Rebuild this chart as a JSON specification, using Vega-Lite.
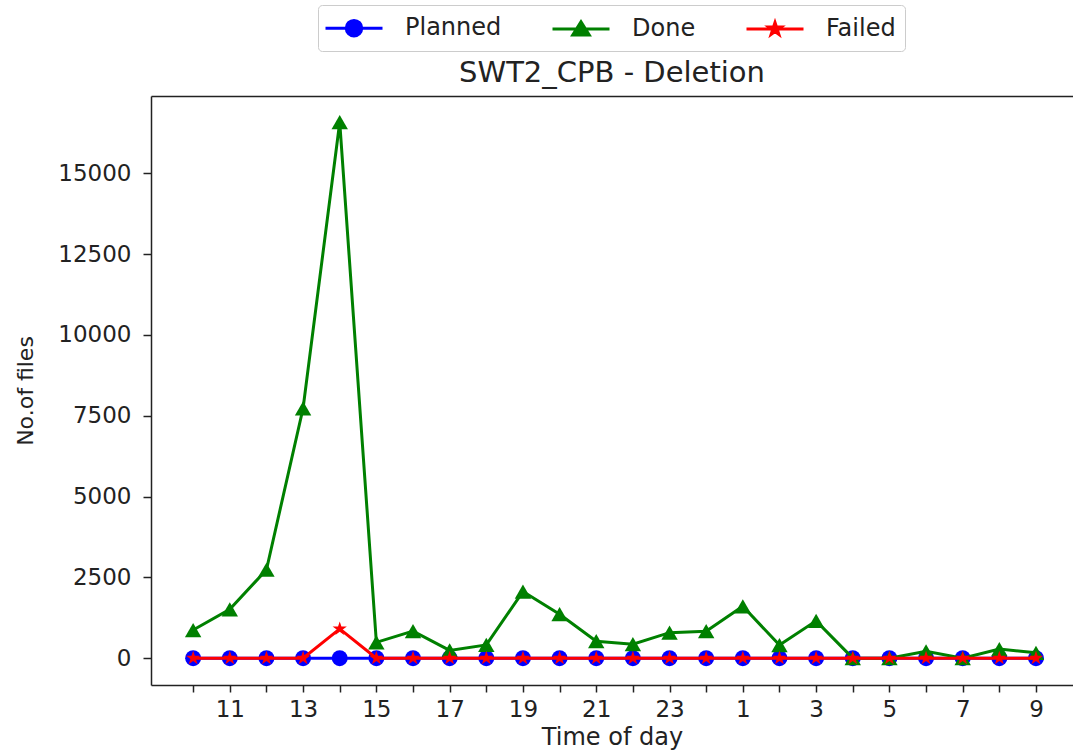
{
  "$schema": "https://vega.github.io/schema/vega-lite/v6.json",
  "width": 922,
  "height": 589,
  "autosize": {"type": "none"},
  "padding": {"left": 151, "top": 96, "right": 0, "bottom": 68},
  "background": "white",
  "config": {"view": {"stroke": null}, "font": "DejaVu Sans"},
  "title": {"text": "SWT2_CPB - Deletion", "fontSize": 29, "fontWeight": "normal", "color": "#222222", "offset": 0, "dy": 83, "font": "DejaVu Sans"},
  "data": {"values": [
    {"t": 0, "series": "Planned", "v": 0}, {"t": 1, "series": "Planned", "v": 0}, {"t": 2, "series": "Planned", "v": 0}, {"t": 3, "series": "Planned", "v": 0},
    {"t": 4, "series": "Planned", "v": 0}, {"t": 5, "series": "Planned", "v": 0}, {"t": 6, "series": "Planned", "v": 0}, {"t": 7, "series": "Planned", "v": 0},
    {"t": 8, "series": "Planned", "v": 0}, {"t": 9, "series": "Planned", "v": 0}, {"t": 10, "series": "Planned", "v": 0}, {"t": 11, "series": "Planned", "v": 0},
    {"t": 12, "series": "Planned", "v": 0}, {"t": 13, "series": "Planned", "v": 0}, {"t": 14, "series": "Planned", "v": 0}, {"t": 15, "series": "Planned", "v": 0},
    {"t": 16, "series": "Planned", "v": 0}, {"t": 17, "series": "Planned", "v": 0}, {"t": 18, "series": "Planned", "v": 0}, {"t": 19, "series": "Planned", "v": 0},
    {"t": 20, "series": "Planned", "v": 0}, {"t": 21, "series": "Planned", "v": 0}, {"t": 22, "series": "Planned", "v": 0}, {"t": 23, "series": "Planned", "v": 0},
    {"t": 0, "series": "Done", "v": 870}, {"t": 1, "series": "Done", "v": 1510}, {"t": 2, "series": "Done", "v": 2735}, {"t": 3, "series": "Done", "v": 7730},
    {"t": 4, "series": "Done", "v": 16580}, {"t": 5, "series": "Done", "v": 490}, {"t": 6, "series": "Done", "v": 835}, {"t": 7, "series": "Done", "v": 240},
    {"t": 8, "series": "Done", "v": 410}, {"t": 9, "series": "Done", "v": 2060}, {"t": 10, "series": "Done", "v": 1360}, {"t": 11, "series": "Done", "v": 525},
    {"t": 12, "series": "Done", "v": 433}, {"t": 13, "series": "Done", "v": 790}, {"t": 14, "series": "Done", "v": 835}, {"t": 15, "series": "Done", "v": 1605},
    {"t": 16, "series": "Done", "v": 405}, {"t": 17, "series": "Done", "v": 1155}, {"t": 18, "series": "Done", "v": 0}, {"t": 19, "series": "Done", "v": 0},
    {"t": 20, "series": "Done", "v": 210}, {"t": 21, "series": "Done", "v": 0}, {"t": 22, "series": "Done", "v": 280}, {"t": 23, "series": "Done", "v": 165},
    {"t": 0, "series": "Failed", "v": 0}, {"t": 1, "series": "Failed", "v": 0}, {"t": 2, "series": "Failed", "v": 0}, {"t": 3, "series": "Failed", "v": 0},
    {"t": 4, "series": "Failed", "v": 905}, {"t": 5, "series": "Failed", "v": 0}, {"t": 6, "series": "Failed", "v": 0}, {"t": 7, "series": "Failed", "v": 0},
    {"t": 8, "series": "Failed", "v": 0}, {"t": 9, "series": "Failed", "v": 0}, {"t": 10, "series": "Failed", "v": 0}, {"t": 11, "series": "Failed", "v": 0},
    {"t": 12, "series": "Failed", "v": 0}, {"t": 13, "series": "Failed", "v": 0}, {"t": 14, "series": "Failed", "v": 0}, {"t": 15, "series": "Failed", "v": 0},
    {"t": 16, "series": "Failed", "v": 0}, {"t": 17, "series": "Failed", "v": 0}, {"t": 18, "series": "Failed", "v": 0}, {"t": 19, "series": "Failed", "v": 0},
    {"t": 20, "series": "Failed", "v": 0}, {"t": 21, "series": "Failed", "v": 0}, {"t": 22, "series": "Failed", "v": 0}, {"t": 23, "series": "Failed", "v": 0}
  ]},
  "resolve": {"axis": {"x": "independent"}},
  "layer": [
    {
      "mark": {"type": "point", "opacity": 0},
      "encoding": {
        "x": {"field": "t", "type": "quantitative", "scale": {"domain": [-1.15, 24.01], "nice": false, "zero": false},
              "axis": {"orient": "top", "labels": false, "ticks": false, "title": null, "grid": false, "domain": true, "domainColor": "#222222", "domainWidth": 1.5}},
        "y": {"field": "v", "type": "quantitative", "scale": {"domain": [-830, 17390], "nice": false, "zero": false},
              "axis": {"values": [0, 2500, 5000, 7500, 10000, 12500, 15000], "format": "d", "grid": false, "title": "No.of files", "titleFontSize": 22, "titleFontWeight": "normal", "titleColor": "#222222", "titlePadding": 20,
                       "labelFontSize": 23, "labelColor": "#222222", "labelPadding": 12, "tickSize": 8, "tickWidth": 1.5, "tickColor": "#222222", "domainColor": "#222222", "domainWidth": 1.5}}
      }
    },
    {
      "transform": [{"filter": "datum.series == 'Planned'"}],
      "mark": {"type": "line", "color": "#0000ff", "strokeWidth": 3},
      "encoding": {
        "x": {"field": "t", "type": "quantitative", "scale": {"domain": [-1.15, 24.01], "nice": false, "zero": false},
              "axis": {"values": [0,1,2,3,4,5,6,7,8,9,10,11,12,13,14,15,16,17,18,19,20,21,22,23],
                       "labelExpr": "datum.value % 2 == 1 ? '' + ((datum.value + 10) % 24) : ''",
                       "grid": false, "title": "Time of day", "titleFontSize": 24, "titleFontWeight": "normal", "titleColor": "#222222", "titlePadding": 4,
                       "labelFontSize": 23, "labelColor": "#222222", "labelPadding": 6, "labelFlush": false, "labelOverlap": false,
                       "tickSize": 7, "tickWidth": 1.5, "tickColor": "#222222", "domainColor": "#222222", "domainWidth": 1.5}},
        "y": {"field": "v", "type": "quantitative"}
      }
    },
    {
      "transform": [{"filter": "datum.series == 'Planned'"}],
      "mark": {"type": "point", "shape": "circle", "filled": true, "opacity": 1, "color": "#0000ff", "size": 256},
      "encoding": {
        "x": {"field": "t", "type": "quantitative", "axis": null},
        "y": {"field": "v", "type": "quantitative"}
      }
    },
    {
      "transform": [{"filter": "datum.series == 'Done'"}],
      "mark": {"type": "line", "color": "#008000", "strokeWidth": 3},
      "encoding": {
        "x": {"field": "t", "type": "quantitative", "axis": null},
        "y": {"field": "v", "type": "quantitative"}
      }
    },
    {
      "transform": [{"filter": "datum.series == 'Done'"}],
      "mark": {"type": "point", "shape": "triangle-up", "filled": true, "opacity": 1, "color": "#008000", "size": 270},
      "encoding": {
        "x": {"field": "t", "type": "quantitative", "axis": null},
        "y": {"field": "v", "type": "quantitative"}
      }
    },
    {
      "transform": [{"filter": "datum.series == 'Failed'"}],
      "mark": {"type": "line", "color": "#ff0000", "strokeWidth": 3},
      "encoding": {
        "x": {"field": "t", "type": "quantitative", "axis": null},
        "y": {"field": "v", "type": "quantitative"}
      }
    },
    {
      "transform": [{"filter": "datum.series == 'Failed'"}],
      "mark": {"type": "point", "shape": "M0,-1L0.225,-0.309L0.951,-0.309L0.363,0.118L0.588,0.809L0,0.382L-0.588,0.809L-0.363,0.118L-0.951,-0.309L-0.225,-0.309Z", "filled": true, "opacity": 1, "color": "#ff0000", "size": 225},
      "encoding": {
        "x": {"field": "t", "type": "quantitative", "axis": null},
        "y": {"field": "v", "type": "quantitative"}
      }
    },
    {
      "mark": {"type": "point", "filled": true, "opacity": 0, "size": 625},
      "encoding": {
        "color": {"field": "series", "type": "nominal",
                  "scale": {"domain": ["Planned", "Done", "Failed"], "range": ["#0000ff", "#008000", "#ff0000"]},
                  "legend": {"orient": "none", "legendX": 167, "legendY": -91, "direction": "horizontal", "columns": 3, "title": null,
                             "labelFontSize": 24, "labelColor": "#222222", "labelOffset": 37, "symbolOffset": 13, "columnPadding": 44, "padding": 9,
                             "strokeColor": "#cccccc", "fillColor": "white", "cornerRadius": 4, "symbolSize": 625, "symbolStrokeWidth": 3, "symbolOpacity": 1,
                             "encode": {"symbols": {"update": {"stroke": {"scale": "color", "field": "value"}, "opacity": {"value": 1}, "strokeWidth": {"value": 3}}}}}},
        "shape": {"field": "series", "type": "nominal",
                  "scale": {"domain": ["Planned", "Done", "Failed"], "range": [
                    "M-2.28,0L2.28,0M-0.62,0A0.62,0.62,0,1,1,0.62,0A0.62,0.62,0,1,1,-0.62,0Z",
                    "M-2.28,0L2.28,0M0,-0.58L-0.66,0.48L0.66,0.48Z",
                    "M-2.28,0L2.28,0M0,-0.52L0.117,-0.161L0.495,-0.161L0.189,0.061L0.306,0.421L0,0.199L-0.306,0.421L-0.189,0.061L-0.495,-0.161L-0.117,-0.161Z"
                  ]},
                  "legend": {"orient": "none", "legendX": 167, "legendY": -91, "direction": "horizontal", "columns": 3, "title": null,
                             "labelFontSize": 24, "labelColor": "#222222", "labelOffset": 37, "symbolOffset": 13, "columnPadding": 44, "padding": 9,
                             "strokeColor": "#cccccc", "fillColor": "white", "cornerRadius": 4, "symbolSize": 625, "symbolStrokeWidth": 3, "symbolOpacity": 1,
                             "encode": {"symbols": {"update": {"stroke": {"scale": "color", "field": "value"}, "opacity": {"value": 1}, "strokeWidth": {"value": 3}}}}}}
      }
    }
  ]
}
